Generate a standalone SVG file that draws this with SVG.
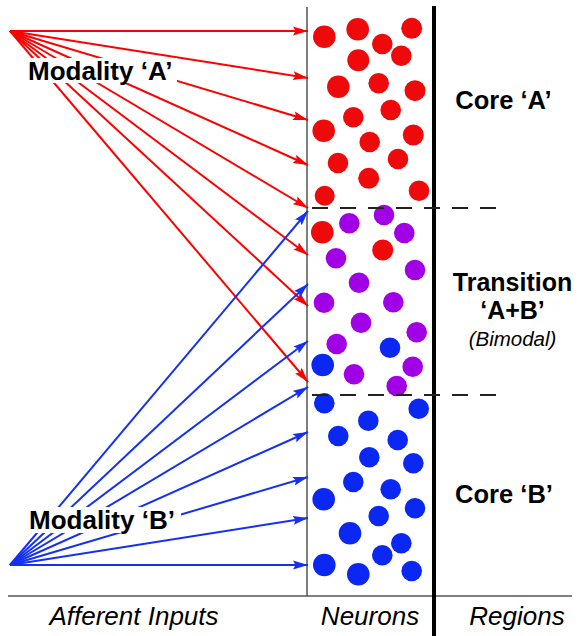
<svg xmlns="http://www.w3.org/2000/svg" width="578" height="636" viewBox="0 0 578 636">
<style>
.bold{font-family:"Liberation Sans",Arial,sans-serif;font-weight:bold;fill:#000}
.ital{font-family:"Liberation Sans",Arial,sans-serif;font-style:italic;fill:#000}
.ra{stroke:#FF0000;stroke-width:2;fill:none;marker-end:url(#mr)}
.ba{stroke:#1530F5;stroke-width:2;fill:none;marker-end:url(#mb)}
.r{fill:#EE0A0A}
.p{fill:#A100E6}
.b{fill:#0A28F2}
.dash{stroke:#222;stroke-width:2;stroke-dasharray:16 12}
</style>
<defs>
<marker id="mr" markerUnits="userSpaceOnUse" markerWidth="16" markerHeight="10" refX="15" refY="5" orient="auto"><path d="M0,0.5 L15,5 L0,9.5 L2.5,5 Z" fill="#FF0000"/></marker>
<marker id="mb" markerUnits="userSpaceOnUse" markerWidth="16" markerHeight="10" refX="15" refY="5" orient="auto"><path d="M0,0.5 L15,5 L0,9.5 L2.5,5 Z" fill="#1530F5"/></marker>
</defs>
<rect width="578" height="636" fill="#fff"/>
<g id="frame">
<line x1="307" y1="7" x2="307" y2="596" stroke="#555" stroke-width="1.5"/>
<line x1="8" y1="596" x2="572" y2="596" stroke="#555" stroke-width="1.5"/>
<line x1="434" y1="6" x2="434" y2="636" stroke="#000" stroke-width="4"/>
</g>
<g id="connectors">
<g id="red-inputs">
<line class="ra" x1="10" y1="31" x2="308" y2="31"/>
<line class="ra" x1="10" y1="31" x2="308" y2="78"/>
<line class="ra" x1="10" y1="31" x2="308" y2="120"/>
<line class="ra" x1="10" y1="31" x2="308" y2="165"/>
<line class="ra" x1="10" y1="31" x2="308" y2="208"/>
<line class="ra" x1="10" y1="31" x2="308" y2="255"/>
<line class="ra" x1="10" y1="31" x2="308" y2="306"/>
<line class="ra" x1="10" y1="31" x2="308" y2="382"/>
</g>
<g id="blue-inputs">
<line class="ba" x1="10" y1="565" x2="308" y2="211"/>
<line class="ba" x1="10" y1="565" x2="308" y2="284"/>
<line class="ba" x1="10" y1="565" x2="308" y2="341"/>
<line class="ba" x1="10" y1="565" x2="308" y2="387"/>
<line class="ba" x1="10" y1="565" x2="308" y2="432"/>
<line class="ba" x1="10" y1="565" x2="308" y2="477"/>
<line class="ba" x1="10" y1="565" x2="308" y2="518"/>
<line class="ba" x1="10" y1="565" x2="308" y2="565"/>
</g>
</g>
<g id="modality-a">
<rect x="26" y="58" width="151" height="25" fill="#fff"/>
<text class="bold" x="28" y="80" font-size="26">Modality ‘A’</text>
</g>
<g id="modality-b">
<rect x="26" y="507" width="155" height="26" fill="#fff"/>
<text class="bold" x="29" y="529" font-size="26">Modality ‘B’</text>
</g>
<g id="neurons">
<g class="r">
<circle cx="324.3" cy="36.7" r="11.3"/><circle cx="357.7" cy="29.3" r="11.3"/><circle cx="411.7" cy="28.3" r="10.5"/>
<circle cx="382.3" cy="44" r="10.3"/><circle cx="401.3" cy="55.7" r="10.3"/><circle cx="358.3" cy="60.3" r="11"/>
<circle cx="338.3" cy="86.7" r="11.3"/><circle cx="378.7" cy="83.3" r="10.3"/><circle cx="415" cy="90.7" r="10.5"/>
<circle cx="390.7" cy="110" r="10.3"/><circle cx="353.3" cy="117.3" r="10.3"/><circle cx="323.7" cy="130.7" r="11.3"/>
<circle cx="413.3" cy="135" r="10.5"/><circle cx="369.7" cy="142" r="10.3"/><circle cx="338" cy="163" r="10.3"/>
<circle cx="398" cy="159" r="10.3"/><circle cx="368.7" cy="178.3" r="10.5"/><circle cx="324.7" cy="195.7" r="10"/>
<circle cx="419" cy="190.7" r="10.3"/>
<circle cx="322.3" cy="232.3" r="11.3"/><circle cx="382.7" cy="250" r="10.5"/>
</g>
<g class="p">
<circle cx="384" cy="215" r="10.3"/><circle cx="349.3" cy="223.3" r="10.3"/><circle cx="404.3" cy="233" r="10.3"/>
<circle cx="336" cy="258.3" r="10.3"/><circle cx="415" cy="270" r="10.3"/><circle cx="359" cy="282.7" r="10.3"/>
<circle cx="324" cy="302.7" r="10.3"/><circle cx="393.3" cy="302.3" r="10.3"/><circle cx="361" cy="322.7" r="10.3"/>
<circle cx="416.7" cy="332.3" r="10.3"/><circle cx="336.7" cy="344" r="10.3"/><circle cx="354" cy="374.3" r="10.3"/>
<circle cx="412.7" cy="366.7" r="10.3"/><circle cx="396.7" cy="386" r="10.3"/>
</g>
<g class="b">
<circle cx="390" cy="347.7" r="10.3"/><circle cx="322.7" cy="365" r="11.3"/>
<circle cx="324.3" cy="403.3" r="10.3"/><circle cx="418.7" cy="408.7" r="10.3"/><circle cx="368.3" cy="420.7" r="10.3"/>
<circle cx="338.3" cy="436" r="10.3"/><circle cx="397.7" cy="440" r="10.3"/><circle cx="369.3" cy="457.3" r="10.3"/>
<circle cx="413.3" cy="463.3" r="10.3"/><circle cx="353.3" cy="482" r="10.3"/><circle cx="390.7" cy="489.3" r="10.3"/>
<circle cx="323.7" cy="499.3" r="11.3"/><circle cx="415" cy="508.3" r="10.3"/><circle cx="378.7" cy="516" r="10.3"/>
<circle cx="350" cy="533.3" r="11.3"/><circle cx="401.3" cy="543.3" r="10.3"/><circle cx="382.3" cy="555.3" r="10.3"/>
<circle cx="324.3" cy="565" r="11.3"/><circle cx="358.3" cy="574.3" r="11.3"/><circle cx="411.7" cy="571" r="10.3"/>
</g>
</g>
<g id="region-boundaries">
<line class="dash" x1="312" y1="208" x2="500" y2="208"/>
<line class="dash" x1="312" y1="395" x2="500" y2="395"/>
</g>
<g id="regions">
<text class="bold" x="503.5" y="108.5" font-size="25.5" text-anchor="middle">Core ‘A’</text>
<text class="bold" x="512.5" y="290.5" font-size="25" text-anchor="middle">Transition</text>
<text class="bold" x="512.5" y="318.5" font-size="25" text-anchor="middle">‘A+B’</text>
<text class="ital" x="512.5" y="345.5" font-size="20.5" text-anchor="middle">(Bimodal)</text>
<text class="bold" x="504" y="502.5" font-size="25.5" text-anchor="middle">Core ‘B’</text>
</g>
<g id="axis-labels">
<text class="ital" x="134" y="625" font-size="26" text-anchor="middle">Afferent Inputs</text>
<text class="ital" x="370" y="625" font-size="26" text-anchor="middle">Neurons</text>
<text class="ital" x="517" y="625" font-size="26" text-anchor="middle">Regions</text>
</g>
</svg>
